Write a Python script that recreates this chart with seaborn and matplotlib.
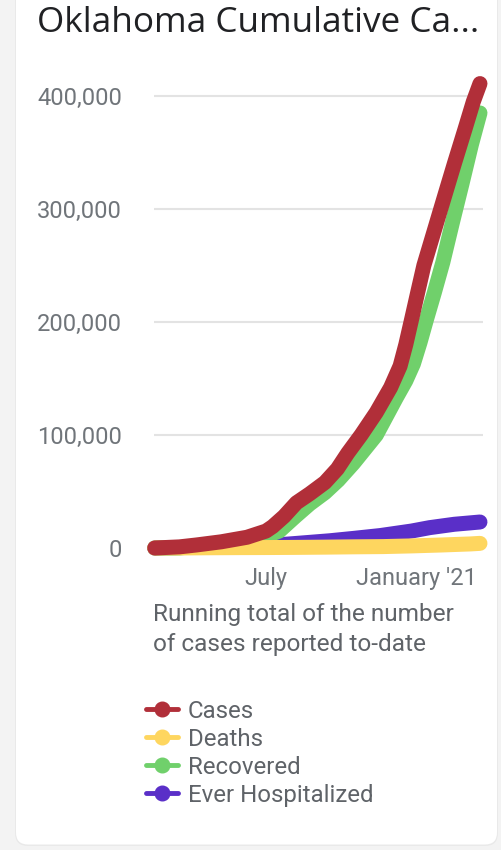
import matplotlib
matplotlib.use("Agg")
import numpy as np
import pandas as pd
import seaborn as sns
import matplotlib.pyplot as plt
from matplotlib.lines import Line2D
from matplotlib.patches import FancyBboxPatch
from matplotlib.transforms import IdentityTransform, ScaledTranslation

# ---------------- data ----------------
cases_dates = ["2020-03-06", "2020-04-01", "2020-04-19", "2020-05-15", "2020-06-11",
               "2020-07-01", "2020-07-08", "2020-07-20", "2020-08-02", "2020-08-16",
               "2020-09-01", "2020-09-14", "2020-09-25", "2020-10-09", "2020-10-25",
               "2020-11-09", "2020-11-19", "2020-11-25", "2020-12-01", "2020-12-08",
               "2020-12-14", "2020-12-25", "2021-01-05", "2021-01-15", "2021-01-26",
               "2021-02-04", "2021-02-11"]
cases = [0, 1000, 2700, 5500, 9500,
         15000, 19000, 28000, 40000, 48000,
         58000, 70000, 84000, 100000, 120000,
         142000, 161000, 180000, 202000, 228000,
         250000, 281000, 312000, 340000, 370000,
         395000, 411000]

deaths_dates = ["2020-03-06", "2020-04-01", "2020-05-01", "2020-06-01", "2020-07-01",
                "2020-08-01", "2020-09-01", "2020-10-01", "2020-11-01", "2020-12-01",
                "2021-01-01", "2021-02-01", "2021-02-11"]
deaths = [0, 30, 200, 330, 400, 540, 760, 1040, 1250, 1850, 2650, 3600, 4100]

recovered_dates = ["2020-03-06", "2020-04-01", "2020-05-01", "2020-06-01", "2020-07-01",
                   "2020-07-15", "2020-08-01", "2020-08-16", "2020-09-01", "2020-09-15",
                   "2020-10-01", "2020-10-25", "2020-11-15", "2020-11-25", "2020-12-03",
                   "2020-12-10", "2020-12-17", "2020-12-25", "2021-01-03", "2021-01-13",
                   "2021-01-23", "2021-02-02", "2021-02-11"]
recovered = [0, 50, 2500, 5500, 10500,
             15000, 28000, 39000, 49000, 60000,
             75000, 100000, 133000, 148000, 163000,
             182000, 203000, 226000, 253000, 288000,
             322000, 357000, 385000]

hosp_dates = ["2020-03-06", "2020-04-01", "2020-05-01", "2020-06-01", "2020-07-01",
              "2020-08-01", "2020-09-06", "2020-10-01", "2020-10-29", "2020-12-01",
              "2020-12-20", "2021-01-15", "2021-02-11"]
hospitalized = [0, 400, 900, 1300, 2000, 4000, 6400, 8500, 11000, 15000, 18000, 21000, 23000]

series_names = ["Cases", "Deaths", "Recovered", "Ever Hospitalized"]
series_colors = ["#b12f39", "#fed65f", "#70d06b", "#5a2fc8"]

x_tick_dates = ["2020-07-01", "2021-01-01"]
x_tick_labels = ["July", "January '21"]
y_ticks = [0, 100000, 200000, 300000, 400000]

title_text = "Oklahoma Cumulative Ca..."
subtitle_lines = ["Running total of the number", "of cases reported to-date"]

# ---------------- build a long table ----------------
frames = []
for name, d, v in [("Cases", cases_dates, cases), ("Deaths", deaths_dates, deaths),
                   ("Recovered", recovered_dates, recovered),
                   ("Ever Hospitalized", hosp_dates, hospitalized)]:
    frames.append(pd.DataFrame({"date": pd.to_datetime(d), "value": v, "series": name}))
df = pd.concat(frames, ignore_index=True)

# ---------------- figure ----------------
sns.set_theme(style="white")
plt.rcParams["font.family"] = ["Roboto", "DejaVu Sans"]

W, H = 501, 850
fig = plt.figure(figsize=(W / 100, H / 100), dpi=100)
fig.patch.set_facecolor("#f3f3f3")

# card (pixel coordinates, origin bottom-left)
shadow = FancyBboxPatch((15, 4), 483, 880, boxstyle="round,pad=0,rounding_size=13",
                        transform=IdentityTransform(), facecolor="#e9e9e9",
                        edgecolor="none", zorder=-3)
card = FancyBboxPatch((16, 5.5), 481, 880, boxstyle="round,pad=0,rounding_size=12",
                      transform=IdentityTransform(), facecolor="white",
                      edgecolor="none", zorder=-2)
fig.patches.extend([shadow, card])

# axes placement in pixels
ax_left, ax_right, ax_top, ax_bot = 154, 483, 80, 560
ax = fig.add_axes([ax_left / W, 1 - ax_bot / H, (ax_right - ax_left) / W,
                   (ax_bot - ax_top) / H])
ax.set_facecolor("none")
ax.set_zorder(1)

color_map = dict(zip(series_names, series_colors))
draw_order = ["Ever Hospitalized", "Recovered", "Deaths", "Cases"]
for name in draw_order:
    sns.lineplot(data=df[df["series"] == name], x="date", y="value",
                 color=color_map[name], lw=10.8, solid_capstyle="round",
                 solid_joinstyle="round", ax=ax, legend=False, clip_on=False)

# scales
jul1 = pd.Timestamp("2020-07-01")
k = 0.951  # px per day
ax.set_xlim(jul1 - pd.Timedelta(days=(266 - ax_left) / k),
            jul1 + pd.Timedelta(days=(ax_right - 266) / k))
ppx = 100000 / 113.0
ax.set_ylim(0 - (ax_bot - 548) * ppx, 400000 + (96 - ax_top) * ppx)

ax.set_yticks(y_ticks)
ax.set_yticklabels([f"{v:,}" for v in y_ticks])
ax.set_xticks(pd.to_datetime(x_tick_dates))
ax.set_xticklabels(x_tick_labels)
ax.set_xlabel("")
ax.set_ylabel("")
ax.tick_params(axis="y", length=0, pad=23, labelsize=17, labelcolor="#70757a")
ax.tick_params(axis="x", length=0, pad=5, labelsize=17, labelcolor="#70757a")
jan_lab = ax.get_xticklabels()[1]
jan_lab.set_transform(jan_lab.get_transform() +
                      ScaledTranslation(-25 / 100, 0, fig.dpi_scale_trans))

ax.yaxis.grid(True, color="#e3e3e3", lw=1.5)
ax.xaxis.grid(False)
ax.set_axisbelow(True)
for s in ax.spines.values():
    s.set_visible(False)

# title & subtitle
fig.text(37 / W, 1 - 32 / H, title_text, fontsize=25.3, color="#202124",
         family=["Open Sans", "DejaVu Sans"], ha="left", va="baseline")
fig.text(153 / W, 1 - 614 / H, subtitle_lines[0], fontsize=17.6, color="#5f6368",
         ha="left", va="center")
fig.text(153 / W, 1 - 644 / H, subtitle_lines[1], fontsize=17.6, color="#5f6368",
         ha="left", va="center")

# legend
handles = [Line2D([], [], color=color_map[n], lw=3.5, marker="o", markersize=10.5)
           for n in series_names]
fig.legend(handles, series_names, loc="upper left",
           bbox_to_anchor=(146 / W, 1 - 699.5 / H), bbox_transform=fig.transFigure,
           frameon=False, fontsize=17.3, labelcolor="#5f6368", handlelength=1.35,
           handletextpad=0.38, labelspacing=0.21, borderpad=0, borderaxespad=0)

fig.savefig("out.png", dpi=100)
